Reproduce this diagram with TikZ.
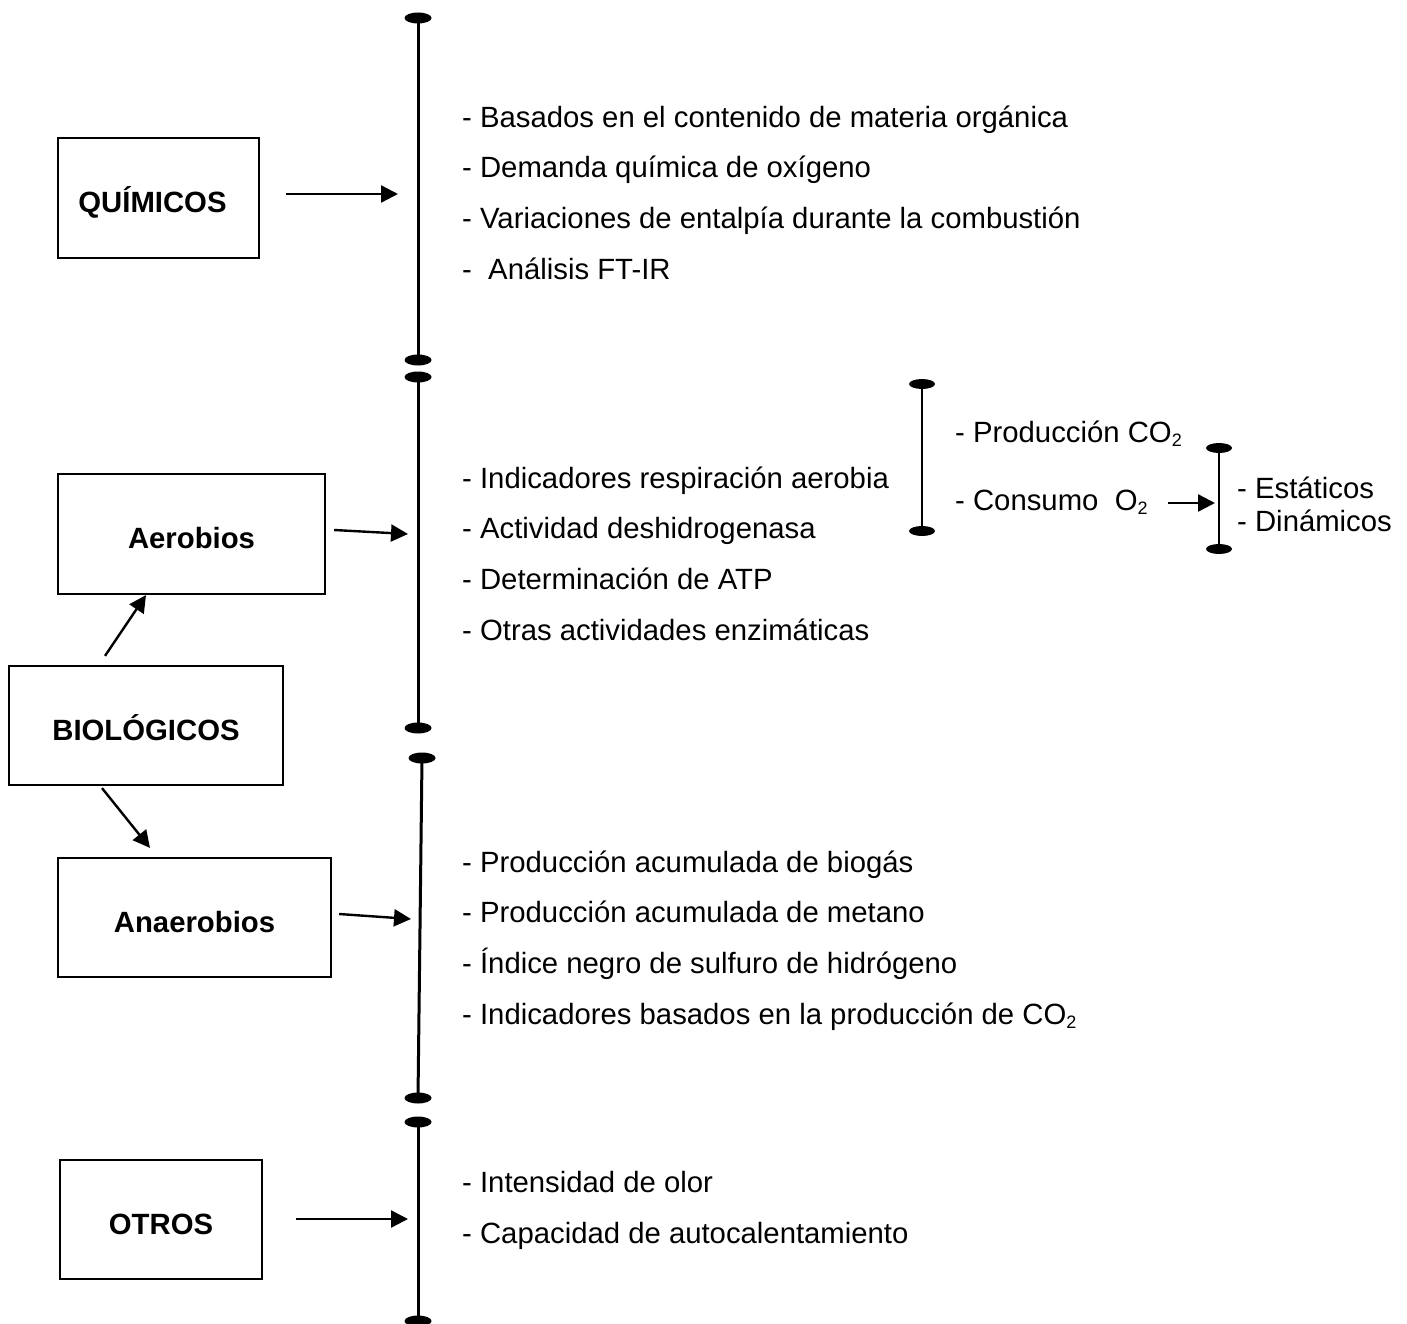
\documentclass[tikz,border=0pt]{standalone}
\usepackage{fontspec}
\setmainfont{Liberation Sans}
\usetikzlibrary{arrows.meta,shapes.geometric}
\newcommand{\mysub}[1]{\raisebox{-4pt}{\fontsize{18}{18}\selectfont #1}}
\begin{document}
\begin{tikzpicture}[x=1pt,y=-1pt,
  boxst/.style={draw,line width=2.2pt,rectangle,inner sep=0pt,text height=29pt,text depth=0pt,font=\fontsize{29.3}{35}\selectfont\bfseries},
  itemtxt/.style={anchor=base west,inner sep=0pt,font=\fontsize{29.3}{35}\selectfont},
  capell/.style={ellipse,fill=black,draw=none,inner sep=0pt,minimum width=27pt,minimum height=11pt},
  smallell/.style={ellipse,fill=black,draw=none,inner sep=0pt,minimum width=26pt,minimum height=10pt},
  vln/.style={line width=3pt},
  svln/.style={line width=2.2pt},
  arr/.style={line width=2.4pt,-{Triangle[length=17pt,width=17pt]}}]
\useasboundingbox (0,0) rectangle (1407,1324);

% boxes
\node[boxst,minimum width=201pt,minimum height=120pt] (qui) at (158.5,198) {QUÍMICOS\hspace*{12pt}};
\node[boxst,minimum width=267pt,minimum height=120pt] (aer) at (191.5,534) {Aerobios};
\node[boxst,minimum width=274pt,minimum height=119pt] (bio) at (146,725.5) {BIOLÓGICOS};
\node[boxst,minimum width=273pt,minimum height=119pt] (ana) at (194.5,917.5) {Anaerobios};
\node[boxst,minimum width=202pt,minimum height=119pt] (otr) at (161,1219.5) {OTROS};

% main vertical lines
\node[capell] (v1t) at (418,18) {};
\node[capell] (v1b) at (418,360) {};
\node[capell] (v2t) at (418,377) {};
\node[capell] (v2b) at (418,728) {};
\node[capell] (v3t) at (422,758) {};
\node[capell] (v3b) at (418,1098) {};
\node[capell] (v4t) at (418,1122) {};
\node[capell] (v4b) at (418,1321) {};
\draw[vln] (v1t.center) -- (v1b.center);
\draw[vln] (v2t.center) -- (v2b.center);
\draw[vln] (v3t.center) -- (v3b.center);
\draw[vln] (v4t.center) -- (v4b.center);

% sub brackets
\node[smallell] (s1t) at (922,384) {};
\node[smallell] (s1b) at (922,531) {};
\node[smallell] (s2t) at (1219,448) {};
\node[smallell] (s2b) at (1219,549) {};
\draw[svln] (s1t.center) -- (s1b.center);
\draw[svln] (s2t.center) -- (s2b.center);

% arrow targets
\coordinate (quiE) at (398,194);
\coordinate (aerE) at (408,534);
\coordinate (anaE) at (411,919);
\coordinate (otrE) at (408,1219);
\coordinate (conS) at (1168,503);
\coordinate (conE) at (1215,503);

\draw[arr] ([xshift=26pt,yshift=4pt]qui.east) -- (quiE);
\draw[arr] ([xshift=8pt,yshift=4pt]aer.east) -- (aerE);
\draw[arr] ([xshift=7pt,yshift=3.5pt]ana.east) -- (anaE);
\draw[arr] ([xshift=33pt,yshift=0.5pt]otr.east) -- (otrE);
\draw[arr] ([xshift=-41pt,yshift=9pt]bio.north) -- ([xshift=-45.5pt]aer.south);
\draw[arr] ([xshift=-44pt,yshift=-2pt]bio.south) -- ([xshift=-44.5pt,yshift=9pt]ana.north);
\draw[arr] (conS) -- (conE);

% texts
\node[itemtxt] (t1) at (462,128) {- Basados en el contenido de materia orgánica};
\node[itemtxt] (t2) at (462,178) {- Demanda química de oxígeno};
\node[itemtxt] (t3) at (462,229) {- Variaciones de entalpía durante la combustión};
\node[itemtxt] (t4) at (462,279) {-\ \ Análisis FT-IR};

\node[itemtxt] (t5) at (462,488) {- Indicadores respiración aerobia};
\node[itemtxt] (t6) at (462,538) {- Actividad deshidrogenasa};
\node[itemtxt] (t7) at (462,589) {- Determinación de ATP};
\node[itemtxt] (t8) at (462,640) {- Otras actividades enzimáticas};

\node[itemtxt] (t9) at (462,872) {- Producción acumulada de biogás};
\node[itemtxt] (t10) at (462,922) {- Producción acumulada de metano};
\node[itemtxt] (t11) at (462,973) {- Índice negro de sulfuro de hidrógeno};
\node[itemtxt] (t12) at (462,1024) {- Indicadores basados en la producción de CO\mysub{2}};

\node[itemtxt] (t13) at (462,1192) {- Intensidad de olor};
\node[itemtxt] (t14) at (462,1243) {- Capacidad de autocalentamiento};

\node[itemtxt] (p1) at (955,442) {- Producción CO\mysub{2}};
\node[itemtxt] (p2) at (955,510) {- Consumo\ \ O\mysub{2}};
\node[itemtxt] (p3) at (1237,498) {- Estáticos};
\node[itemtxt] (p4) at (1237,531) {- Dinámicos};
\end{tikzpicture}
\end{document}
